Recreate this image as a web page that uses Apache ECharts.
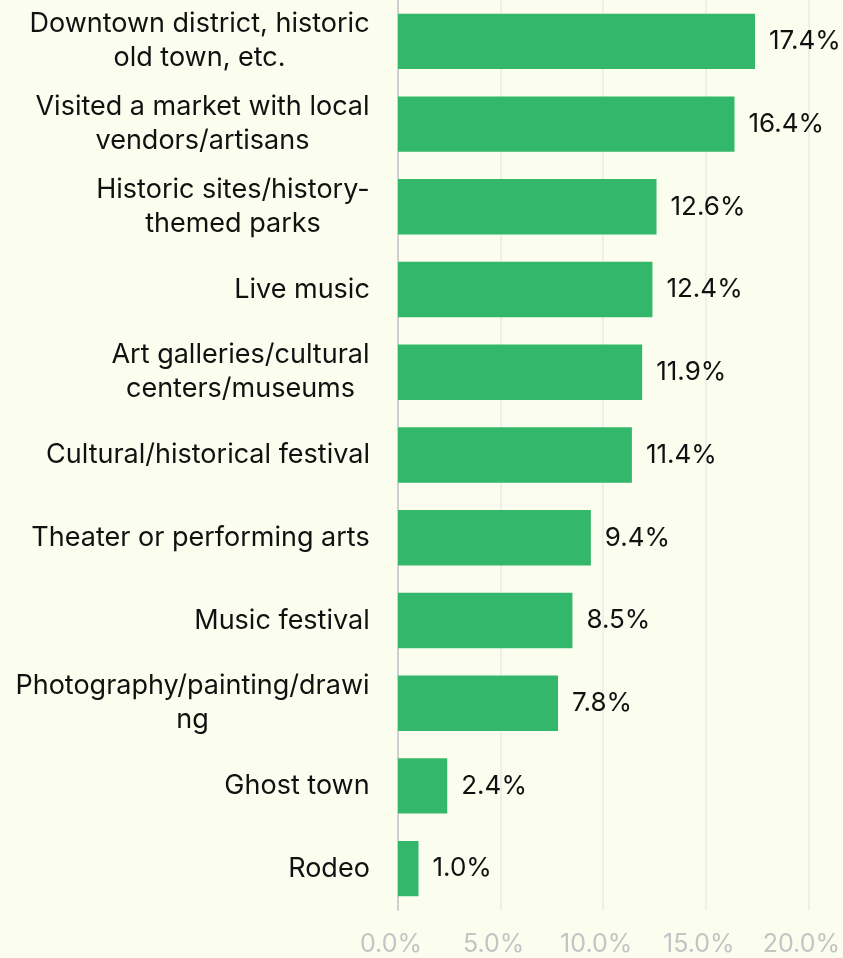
<!DOCTYPE html>
<html><head><meta charset="utf-8">
<script src="https://cdn.jsdelivr.net/npm/echarts@6/dist/echarts.min.js"></script>
<style>html,body{margin:0;padding:0;background:#fbfeee;overflow:hidden;}#c{width:843px;height:958px;}</style>
</head><body><div id="c"></div>
<script>
const categories = [
  "Downtown district, historic\nold town, etc.",
  "Visited a market with local\nvendors/artisans",
  "Historic sites/history-\nthemed parks",
  "Live music",
  "Art galleries/cultural\ncenters/museums",
  "Cultural/historical festival",
  "Theater or performing arts",
  "Music festival",
  "Photography/painting/drawi\nng",
  "Ghost town",
  "Rodeo"
];
const values = [17.4, 16.4, 12.6, 12.4, 11.9, 11.4, 9.4, 8.5, 7.8, 2.4, 1.0];
const tickLabels = ["0.0%", "5.0%", "10.0%", "15.0%", "20.0%"];

const FONT = 'Inter';
const CAT_SIZE = 27;
const ctx = document.createElement('canvas').getContext('2d');
ctx.font = CAT_SIZE + 'px ' + FONT;
const rich = {};
categories.forEach((c, i) => {
  const w = Math.max(...c.split('\n').map(l => ctx.measureText(l).width));
  rich['l' + i] = {width: Math.ceil(w), align: 'center', fontSize: CAT_SIZE, fontFamily: FONT, color: '#111', lineHeight: 34};
});

const chart = echarts.init(document.getElementById('c'), null, {renderer: 'canvas', width: 843, height: 958});
chart.setOption({
  backgroundColor: '#fbfeee',
  animation: false,
  grid: {left: 398, width: 411.5, top: 0, bottom: 48, containLabel: false},
  xAxis: {
    type: 'value', min: 0, max: 20, interval: 5,
    axisLine: {show: false}, axisTick: {show: false},
    splitLine: {lineStyle: {color: '#eaeaea', width: 1.5}},
    axisLabel: {
      color: '#c4c4c4', fontSize: 25, fontFamily: FONT, margin: 22, padding: [0, 14, 0, 0],
      formatter: v => tickLabels[Math.round(v / 5)]
    }
  },
  yAxis: {
    type: 'category', data: categories, inverse: true,
    axisLine: {lineStyle: {color: '#cfcfcf', width: 2}},
    axisTick: {show: false},
    axisLabel: {
      color: '#111', fontSize: CAT_SIZE, fontFamily: FONT, margin: 28, lineHeight: 34, align: 'right',
      rich: rich,
      formatter: (val, idx) => val.split('\n').map(l => '{l' + idx + '|' + l + '}').join('\n')
    }
  },
  series: [{
    type: 'bar', data: values, barCategoryGap: '33%',
    itemStyle: {color: '#33b76a'},
    label: {show: true, position: 'right', distance: 14, color: '#111', fontSize: 26, fontFamily: FONT,
      formatter: p => p.value.toFixed(1) + '%'}
  }]
});
</script></body></html>
